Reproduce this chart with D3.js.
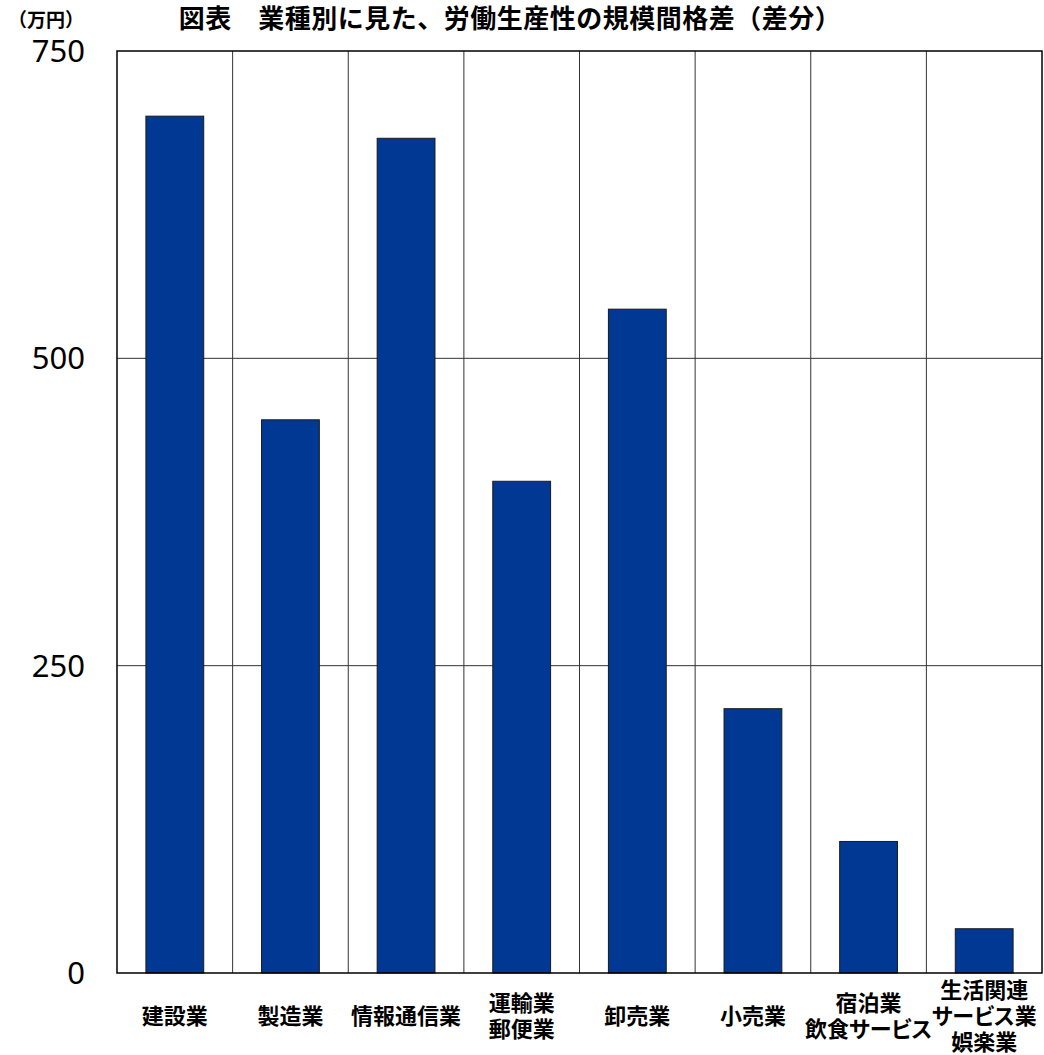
<!DOCTYPE html>
<html>
<head>
<meta charset="utf-8">
<script src="https://cdn.jsdelivr.net/npm/d3@7"></script>
<style>
  body { margin: 0; background: #fff; }
  text { font-family: "Noto Sans CJK JP", "Noto Sans", sans-serif; }
</style>
</head>
<body>
<div id="chart"></div>
<script>
// categories (line breaks as in the original labels)
const categories = [
  ["建設業"],
  ["製造業"],
  ["情報通信業"],
  ["運輸業", "郵便業"],
  ["卸売業"],
  ["小売業"],
  ["宿泊業", "飲食サービス"],
  ["生活関連", "サービス業", "娯楽業"],
];
// 万円
const values = [697, 450, 679, 400, 540, 215, 107, 36];
const yTicks = [0, 250, 500, 750];

const width = 1044;
const height = 1055;
const margin = { top: 51, right: 2, bottom: 82, left: 117 };

const svg = d3
  .select("#chart")
  .append("svg")
  .attr("width", width)
  .attr("height", height);

const x = d3
  .scaleBand()
  .domain(d3.range(categories.length))
  .range([margin.left, width - margin.right])
  .paddingInner(0)
  .paddingOuter(0);

const y = d3
  .scaleLinear()
  .domain([0, 750])
  .range([height - margin.bottom, margin.top]);

// vertical grid at band boundaries
svg
  .append("g")
  .selectAll("line")
  .data(d3.range(1, categories.length))
  .enter()
  .append("line")
  .attr("x1", (d) => x(d))
  .attr("x2", (d) => x(d))
  .attr("y1", y(750))
  .attr("y2", y(0))
  .style("stroke", "#333")
  .style("stroke-width", 1);

// horizontal grid
svg
  .append("g")
  .selectAll("line")
  .data(yTicks.slice(1, -1))
  .enter()
  .append("line")
  .attr("x1", margin.left)
  .attr("x2", width - margin.right)
  .attr("y1", (d) => y(d))
  .attr("y2", (d) => y(d))
  .style("stroke", "#333")
  .style("stroke-width", 1);

// bars
const barW = x.bandwidth() * 0.5;
svg
  .append("g")
  .selectAll("rect")
  .data(values)
  .enter()
  .append("rect")
  .attr("x", (d, i) => x(i) + (x.bandwidth() - barW) / 2)
  .attr("y", (d) => y(d))
  .attr("width", barW)
  .attr("height", (d) => y(0) - y(d))
  .style("fill", "#003893")
  .style("stroke", "#1a1a1a")
  .style("stroke-width", 1);

// plot frame
svg
  .append("rect")
  .attr("x", margin.left)
  .attr("y", y(750))
  .attr("width", width - margin.right - margin.left)
  .attr("height", y(0) - y(750))
  .style("fill", "none")
  .style("stroke", "#000")
  .style("stroke-width", 1.5);

// y tick labels
svg
  .append("g")
  .selectAll("text")
  .data(yTicks)
  .enter()
  .append("text")
  .attr("x", 85)
  .attr("y", (d) => y(d))
  .attr("dy", "0.36em")
  .attr("text-anchor", "end")
  .style("font-family", "'Noto Sans', sans-serif")
  .style("font-size", "31px")
  .attr("fill", "#000")
  .text((d) => d);

// unit
svg
  .append("text")
  .attr("x", 46)
  .attr("y", 27)
  .attr("text-anchor", "middle")
  .style("font-size", "19px")
  .style("font-weight", "bold")
  .text("（万円）");

// title
svg
  .append("text")
  .attr("x", 510)
  .attr("y", 28)
  .attr("text-anchor", "middle")
  .style("font-size", "26px")
  .style("font-weight", "bold")
  .attr("letter-spacing", "0.5px")
  .text("図表　業種別に見た、労働生産性の規模間格差（差分）");

// x labels
const lineH = 26;
const labels = svg
  .append("g")
  .selectAll("text")
  .data(categories)
  .enter()
  .append("text")
  .attr("text-anchor", "middle")
  .style("font-size", "22px")
  .style("font-weight", "bold")
  .style("font-feature-settings", "'palt'");

labels
  .selectAll("tspan")
  .data((d) => d.map((s, j) => ({ s, j, n: d.length })))
  .enter()
  .append("tspan")
  .attr("x", function () {
    const i = categories.indexOf(d3.select(this.parentNode).datum());
    return x(i) + x.bandwidth() / 2;
  })
  .attr("y", (d) => 1016 + (d.j - (d.n - 1) / 2) * lineH)
  .attr("dy", "0.35em")
  .text((d) => d.s);
</script>
</body>
</html>
